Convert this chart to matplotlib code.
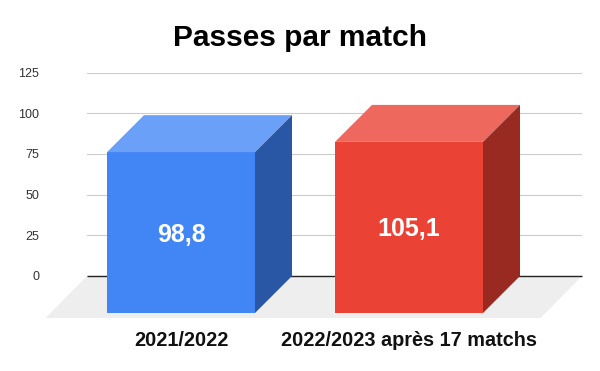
import matplotlib
matplotlib.use("Agg")
import matplotlib.pyplot as plt
from matplotlib.patches import Polygon

plt.rcParams['font.family'] = ['Liberation Sans', 'DejaVu Sans']

title = "Passes par match"
categories = ["2021/2022", "2022/2023 après 17 matchs"]
values = [98.8, 105.1]
value_labels = ["98,8", "105,1"]
yticks = [0, 25, 50, 75, 100, 125]

front_colors = ["#4285f4", "#ea4335"]
top_colors = ["#6aa0f7", "#ee685d"]
side_colors = ["#2a56a6", "#982a22"]

W, H = 600, 371
L, R, T, B = 87, 582, 72.5, 276
fig = plt.figure(figsize=(W / 100, H / 100), dpi=100)
ax = fig.add_axes([L / W, 1 - B / H, (R - L) / W, (B - T) / H])

px_x = 228.0          # pixels per category step
px_y = (B - T) / 125  # pixels per value unit
first_x = 107
ax.set_xlim((L - first_x) / px_x, (R - first_x) / px_x)
ax.set_ylim(0, 125)

bar_w = 148 / px_x
dx = 37 / px_x
dy = 37 / px_y
floor_dx = 41.5 / px_x
floor_dy = 42 / px_y

for s in ax.spines.values():
    s.set_visible(False)
ax.set_xticks([])
ax.set_yticks(yticks)
ax.set_yticklabels([str(t) for t in yticks], fontsize=9, color="#333333")
ax.tick_params(axis='y', length=0, pad=34.5)
ax.yaxis.grid(True, color="#cccccc", lw=0.8)
ax.set_axisbelow(True)

x0, x1 = ax.get_xlim()
ax.add_patch(Polygon([(x0, 0), (x1, 0), (x1 - floor_dx, -floor_dy), (x0 - floor_dx, -floor_dy)],
                     closed=True, fc="#eeeeee", ec="none", clip_on=False, zorder=1))
ax.plot([x0, x1], [0, 0], color="#222222", lw=1.0, zorder=2, clip_on=False, solid_capstyle="butt")

for i, (v, lab, cat) in enumerate(zip(values, value_labels, categories)):
    l, r = i, i + bar_w
    bot, top = -dy, v - dy
    ax.add_patch(Polygon([(l, bot), (r, bot), (r, top), (l, top)], fc=front_colors[i], ec="none",
                         clip_on=False, zorder=3))
    ax.add_patch(Polygon([(l, top), (r, top), (r + dx, v), (l + dx, v)], fc=top_colors[i], ec="none",
                         clip_on=False, zorder=3))
    ax.add_patch(Polygon([(r, bot), (r + dx, 0), (r + dx, v), (r, top)], fc=side_colors[i], ec="none",
                         clip_on=False, zorder=3))
    ax.text((l + r) / 2, (bot + top) / 2 - 2 / px_y, lab, color="white", fontsize=18, fontweight="bold",
            ha="center", va="center", zorder=4)
    ax.text((l + r) / 2, -dy - 27 / px_y, cat, color="#111111", fontsize=14.3, fontweight="bold",
            ha="center", va="center", clip_on=False)

fig.text(300 / W, 1 - 38 / H, title, fontsize=21.5, fontweight="bold", color="black",
         ha="center", va="center")

fig.savefig("out.png", dpi=100, facecolor="white")
